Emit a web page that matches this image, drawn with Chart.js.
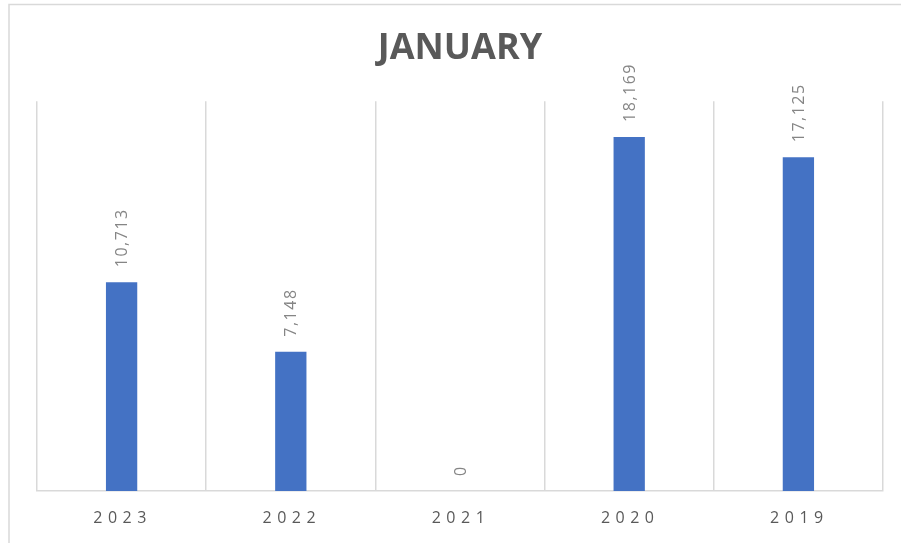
<!DOCTYPE html>
<html>
<head>
<meta charset="utf-8">
<script src="https://cdn.jsdelivr.net/npm/chart.js@4.4.1/dist/chart.umd.min.js"></script>
<style>
  html, body { margin: 0; padding: 0; background: #fff; }
  #wrap { width: 901px; height: 543px; }
</style>
</head>
<body>
<div id="wrap"><canvas id="c" width="901" height="543"></canvas></div>
<script>
// values
const years = ['2023', '2022', '2021', '2020', '2019'];
const visits = [10713, 7148, 0, 18169, 17125];
const yMax = 20000;

const GRID = '#d9d9d9';
const TEXT = '#595959';

// light frame at top/left, like the pasted excel chart
const framePlugin = {
  id: 'frame',
  beforeDraw(chart) {
    const ctx = chart.ctx;
    ctx.save();
    ctx.strokeStyle = GRID;
    ctx.lineWidth = 1.5;
    ctx.beginPath();
    ctx.moveTo(9, 543);
    ctx.lineTo(9, 4.5);
    ctx.lineTo(901, 4.5);
    ctx.stroke();
    ctx.restore();
  }
};

// rotated value labels above the bars + spaced year labels under the axis
const labelPlugin = {
  id: 'labels',
  afterDatasetsDraw(chart) {
    const ctx = chart.ctx;
    const meta = chart.getDatasetMeta(0);
    ctx.save();
    ctx.font = '16px "Open Sans", sans-serif';
    ctx.fillStyle = '#858585';
    ctx.textAlign = 'left';
    ctx.textBaseline = 'middle';
    ctx.letterSpacing = '1.5px';
    meta.data.forEach((bar, i) => {
      ctx.save();
      ctx.translate(bar.x + 1, bar.y - 15);
      ctx.rotate(-Math.PI / 2);
      ctx.fillText(visits[i].toLocaleString('en-US'), 0, 0);
      ctx.restore();
    });

    const xs = chart.scales.x;
    ctx.font = '16px "Open Sans", sans-serif';
    ctx.fillStyle = TEXT;
    ctx.textAlign = 'center';
    ctx.letterSpacing = '5.5px';
    years.forEach((y, i) => {
      ctx.fillText(y, xs.getPixelForValue(i) + 1, 518);
    });
    ctx.restore();
  }
};

new Chart(document.getElementById('c'), {
  type: 'bar',
  data: {
    labels: years,
    datasets: [{
      data: visits,
      backgroundColor: '#4472c4',
      barPercentage: 0.185,
      categoryPercentage: 1
    }]
  },
  options: {
    responsive: false,
    animation: false,
    layout: { padding: { left: 37, right: 18, top: 0, bottom: 52 } },
    plugins: {
      legend: { display: false },
      tooltip: { enabled: false },
      title: {
        display: true,
        text: 'JANUARY',
        color: TEXT,
        font: { family: '"Open Sans", sans-serif', size: 36, weight: 'bold' },
        padding: { top: 27, bottom: 31 }
      }
    },
    scales: {
      x: {
        offset: true,
        grid: { offset: true, color: GRID, lineWidth: 1.5, drawTicks: false },
        border: { color: GRID, width: 1.5 },
        ticks: { display: false }
      },
      y: {
        display: false,
        min: 0,
        max: yMax
      }
    }
  },
  plugins: [framePlugin, labelPlugin]
});
</script>
</body>
</html>
